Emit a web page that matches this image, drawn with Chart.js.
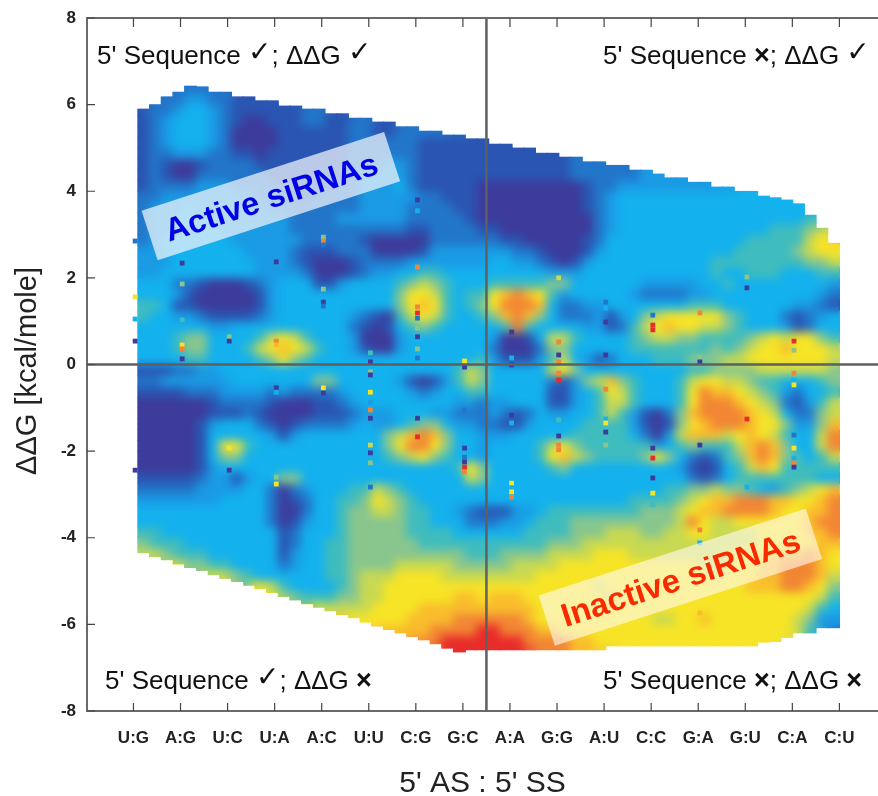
<!DOCTYPE html>
<html>
<head>
<meta charset="utf-8">
<title>siRNA activity map</title>
<script src="https://cdn.jsdelivr.net/npm/chart.js@4"></script>
<style>
    html, body { margin: 0; padding: 0; background: #fff; overflow: hidden; }
    canvas { display: block; }
</style>
</head>
<body>
<canvas id="mapChart" width="878" height="796"></canvas>
<script>
// x axis categories
const categories = ['U:G', 'A:G', 'U:C', 'U:A', 'A:C', 'U:U', 'C:G', 'G:C', 'A:A', 'G:G', 'A:U', 'C:C', 'G:A', 'G:U', 'C:A', 'C:U'];
const yTicks = [8, 6, 4, 2, 0, -2, -4, -6, -8];

// colour levels, 0 (most active) to b (least active)
const levelColors = ['#3d3b9b', '#2a55b2', '#2276ca', '#1a9be4', '#13b1ee', '#3fbcbe', '#88c68e', '#c8d952', '#f7e426', '#f9bd2c', '#f28634', '#e82c2a'];

// levels: one string per 0.25 kcal row from 6.5 down, 60 columns, '.' = no data
const heatRows = [
    '...22 222.. ..... ..... ..... ..... ..... ..... ..... ..... ..... .....',
    '..223 32211 11... ..... ..... ..... ..... ..... ..... ..... ..... .....',
    '12234 43211 11112 211.. ..... ..... ..... ..... ..... ..... ..... .....',
    '12344 43210 01112 21122 11... ..... ..... ..... ..... ..... ..... .....',
    '12344 43200 00111 11122 11222 222.. ..... ..... ..... ..... ..... .....',
    '12344 43200 00111 11122 22221 11111 11... ..... ..... ..... ..... .....',
    '12233 32211 01111 11122 22221 11111 11111 112.. ..... ..... ..... .....',
    '12100 12222 11111 11122 23321 11111 11111 11222 22... ..... ..... .....',
    '12100 22222 21111 11123 33321 11111 11111 11222 22233 33... ..... .....',
    '12222 33322 22111 11223 33421 11110 00000 00012 23333 33333 3.... .....',
    '22333 33333 22211 22223 33332 21110 00000 00012 34444 44444 44444 4....',
    '23334 33333 32222 22223 33322 22110 00000 00012 34444 44444 44444 44...',
    '23344 43333 33322 22333 33322 22210 00000 00002 34444 44444 44444 445..',
    '23344 44333 33322 22222 22211 22221 10000 00002 34444 44444 44445 5567.',
    '23444 44433 33332 22221 00000 22222 21100 00012 44444 44444 44555 55789',
    '33444 44443 33321 11222 00001 33333 33221 00013 44444 44444 45555 56788',
    '33344 44444 33321 00012 22233 33333 44332 10134 44444 44445 55555 55667',
    '33444 44444 33332 00012 33445 54444 44444 33344 44444 44445 44555 44455',
    '44422 10001 23444 11344 44567 65444 55555 66444 44433 33344 54444 44443',
    '44431 00000 13444 44444 44688 75455 89a98 53444 44322 22334 44444 44432',
    '55411 00000 13444 44444 44689 85456 8aaa9 42233 44444 44555 44444 43321',
    '54433 21111 23444 44432 10578 75445 69a96 42223 13467 88888 65444 21234',
    '44444 43344 44444 44421 01456 54444 45a54 44433 12578 98877 65444 31244',
    '44456 64444 57875 44430 00344 44444 30014 77544 44567 76655 55678 78865',
    '44456 64445 78987 54431 00344 44444 20002 66444 44555 55556 56788 98887',
    '44445 54444 56865 44444 44444 44445 31113 57431 24445 55666 77888 88887',
    '11122 33444 44444 44444 44444 44576 44444 78644 44444 44556 66677 77776',
    '22333 33344 44444 66444 44310 13576 44444 21367 96544 45788 77655 44456',
    '11112 22333 32322 22344 44432 34455 44444 11345 87544 458a9 98765 32445',
    '00000 01222 21000 11234 44444 44332 33444 11345 77544 458aa a9876 21357',
    '00000 01112 10000 11123 33444 33222 32124 33445 75310 269aa aa987 42267',
    '00000 13444 21012 22234 33456 64332 21134 44455 55310 1689a aa988 63369',
    '00000 14444 43134 44444 4679a 96443 33444 44555 55420 37999 78987 5447a',
    '00000 14885 44444 44444 468aa 86443 44445 78655 55553 45655 579a9 6447a',
    '00000 14664 44444 44444 45678 65443 44445 89765 55568 64212 569a9 65457',
    '00000 13444 44444 44444 44444 44586 44444 56444 44444 43101 45798 55555',
    '11111 23313 44664 44444 44444 44476 44444 44444 44444 44212 45555 55544',
    '22222 33334 42023 44455 76544 44444 44444 44444 44444 55667 66543 56789',
    '33333 33444 42012 44556 87654 44444 44444 44444 44555 56789 9aaa9 9889a',
    '44444 44444 42002 44566 77655 44321 11334 55555 55566 67899 aaaa9 8899a',
    '44444 44444 42013 44566 66655 44422 23345 55666 66666 67a87 78888 889aa',
    '55444 44444 44124 44566 66655 55444 44455 55666 77766 77887 77788 8899a',
    '65554 44444 44124 45566 66665 55555 55555 66677 77777 77777 77788 88899',
    '77655 54444 44134 45566 66666 66655 56666 77778 88777 77777 78889 99a98',
    '...86 65544 44234 45566 66777 77666 66777 78888 88888 88877 78899 aaa98',
    '..... .8765 44444 45567 77888 87777 77778 88888 88888 88887 88899 aaa97',
    '..... ..... 87544 44567 78888 88888 88888 88887 88888 88888 88999 aa986',
    '..... ..... .8765 55667 78888 88998 99988 88888 78888 88888 88888 88875',
    '..... ..... ....8 87777 88889 99999 99998 88888 88888 88888 88888 88754',
    '..... ..... ..... ..988 88899 99aaa aaa98 88888 88887 78898 88888 87633',
    '..... ..... ..... ..... 99999 aaaab baaa9 98888 88888 88888 88888 87532',
    '..... ..... ..... ..... ...aa abbbb bbbaa aa998 88888 88888 88888 7....',
    '..... ..... ..... ..... ..... .bbbb bbbba aa999 ..... ..... ..... .....'
];

// upper and lower limit of the map for each column
const topEdge = [5.9, 6, 6.18, 6.29, 6.43, 6.41, 6.29, 6.29, 6.18, 6.18, 6.09, 6.09, 5.97, 5.97, 5.9, 5.9, 5.79, 5.79, 5.69, 5.69,
    5.6, 5.6, 5.49, 5.49, 5.39, 5.39, 5.3, 5.3, 5.21, 5.21, 5.09, 5.09, 5, 5, 4.88, 4.88, 4.79, 4.79, 4.68, 4.68,
    4.6, 4.6, 4.49, 4.49, 4.4, 4.31, 4.31, 4.21, 4.21, 4.1, 4.1, 4, 4, 3.89, 3.85, 3.8, 3.71, 3.45, 3.15, 2.8];
const bottomEdge = [-4.35, -4.44, -4.52, -4.61, -4.69, -4.77, -4.86, -4.94, -5.02, -5.11, -5.18, -5.27, -5.36, -5.44, -5.53, -5.61, -5.69, -5.78, -5.85, -5.95,
    -6.04, -6.12, -6.2, -6.28, -6.36, -6.45, -6.55, -6.64, -6.59, -6.59, -6.59, -6.59, -6.59, -6.59, -6.59, -6.59, -6.59, -6.59, -6.59, -6.59,
    -6.5, -6.5, -6.5, -6.5, -6.5, -6.5, -6.5, -6.5, -6.5, -6.5, -6.5, -6.5, -6.5, -6.41, -6.4, -6.3, -6.2, -6.2, -6.08, -6.08];

// single outlier cells on the category columns: [category index, ddG, level]
const spots = [
    [0, 2.85, 2], [0, 1.56, 8], [0, 1.05, 4], [0, 0.54, 0], [0, -2.44, 0],
    [1, 2.34, 0], [1, 1.86, 6], [1, 1.03, 5], [1, 0.45, 8], [1, 0.36, 10], [1, 0.13, 0],
    [2, 0.64, 6], [2, 0.54, 0], [2, -1.93, 8], [2, -2.44, 0],
    [3, 2.37, 0], [3, 0.54, 10], [3, 0.45, 9], [3, -0.54, 0], [3, -0.64, 4], [3, -2.6, 6], [3, -2.76, 8],
    [4, 2.94, 6], [4, 2.85, 10], [4, 2.76, 2], [4, 1.74, 6], [4, 1.44, 0], [4, 1.35, 2], [4, -0.54, 8], [4, -0.66, 0],
    [5, 0.27, 5], [5, 0.06, 0], [5, -0.17, 6], [5, -0.24, 0], [5, -0.64, 8], [5, -0.87, 3], [5, -1.05, 10], [5, -1.24, 0], [5, -1.86, 7], [5, -2.04, 0], [5, -2.27, 6], [5, -2.83, 2],
    [6, 3.8, 0], [6, 3.55, 4], [6, 2.25, 10], [6, 1.33, 10], [6, 1.19, 11], [6, 1.07, 2], [6, 0.84, 6], [6, 0.64, 0], [6, 0.36, 6], [6, 0.15, 2], [6, -1.24, 0], [6, -1.67, 11],
    [7, 0.08, 8], [7, -0.06, 0], [7, -1.05, 2], [7, -1.93, 0], [7, -2.14, 2], [7, -2.25, 0], [7, -2.37, 11], [7, -2.48, 10],
    [8, 0.75, 0], [8, 0.15, 4], [8, -0.01, 0], [8, -1.17, 0], [8, -1.35, 4], [8, -2.74, 8], [8, -2.85, 4], [8, -2.94, 8], [8, -3.06, 10],
    [9, 2, 7], [9, 0.52, 10], [9, 0.22, 0], [9, 0.06, 10], [9, -0.2, 10], [9, -0.36, 11], [9, -1.28, 5], [9, -1.65, 0], [9, -1.86, 10], [9, -1.97, 10],
    [10, 1.44, 2], [10, 1.3, 4], [10, 0.98, 0], [10, 0.22, 0], [10, -0.57, 10], [10, -1.12, 6], [10, -1.26, 4], [10, -1.35, 8], [10, -1.56, 0], [10, -1.86, 6],
    [11, 1.14, 2], [11, 0.91, 11], [11, 0.8, 11], [11, -1.93, 0], [11, -2.16, 11], [11, -2.62, 0], [11, -2.97, 8], [11, -3.24, 5],
    [12, 1.19, 10], [12, 0.17, 6], [12, 0.06, 0], [12, -1.86, 0], [12, -3.82, 10], [12, -4.12, 4], [12, -5.74, 9],
    [13, 2.02, 6], [13, 1.77, 0], [13, -1.26, 11], [13, -2.83, 4],
    [14, 0.54, 11], [14, 0.33, 6], [14, -0.2, 10], [14, -0.36, 4], [14, -0.47, 8], [14, -1.63, 2], [14, -1.93, 8], [14, -2.16, 4], [14, -2.27, 10], [14, -2.37, 0]
];

// quadrant captions
const quadrantLabels = ["5' Sequence \u2713; \u0394\u0394G \u2713", "5' Sequence \u00d7; \u0394\u0394G \u2713", "5' Sequence \u2713; \u0394\u0394G \u00d7", "5' Sequence \u00d7; \u0394\u0394G \u00d7"];

const frameColor = '#6a6a6a';
const colStart = 0.095;
const colStep = (15 - colStart) / 60;
const rowTop = 6.5;
const rowStep = 0.25;

// one bar dataset per row, each bar is one cell
function buildHeatDatasets() {
    return heatRows.map((row, r) => {
        const cells = row.replace(/ /g, '');
        const data = [];
        const colors = [];
        for (let k = 0; k < cells.length; k++) {
            if (cells[k] === '.') continue;
            const hi = Math.min(rowTop - r * rowStep, topEdge[k]);
            const lo = Math.max(rowTop - (r + 1) * rowStep, bottomEdge[k]);
            if (lo >= hi) continue;
            data.push({ x: colStart + (k + 0.5) * colStep, y: [lo, hi] });
            colors.push(levelColors[parseInt(cells[k], 16)]);
        }
        return { type: 'bar', data: data, backgroundColor: colors, borderWidth: 0, barThickness: 12.2, grouped: false };
    });
}

// outline of the map in pixels
function traceMap(ctx, xs, ys) {
    ctx.beginPath();
    for (let k = 0; k < topEdge.length; k++) {
        const x0 = xs.getPixelForValue(colStart + k * colStep);
        const x1 = xs.getPixelForValue(colStart + (k + 1) * colStep);
        const y = ys.getPixelForValue(topEdge[k]);
        if (k === 0) ctx.moveTo(x0, y); else ctx.lineTo(x0, y);
        ctx.lineTo(x1, y);
    }
    for (let k = bottomEdge.length - 1; k >= 0; k--) {
        const x0 = xs.getPixelForValue(colStart + k * colStep);
        const x1 = xs.getPixelForValue(colStart + (k + 1) * colStep);
        const y = ys.getPixelForValue(bottomEdge[k]);
        ctx.lineTo(x1, y);
        ctx.lineTo(x0, y);
    }
    ctx.closePath();
}

// soften the drawn cells the way the original shading looks
const softenPlugin = {
    id: 'soften',
    beforeDatasetDraw(chart, args) {
        if (args.index !== 2) return;
        const { ctx, canvas, scales } = chart;
        const inner = document.createElement('canvas');
        inner.width = canvas.width;
        inner.height = canvas.height;
        const ic = inner.getContext('2d');
        traceMap(ic, scales.x, scales.y);
        ic.clip();
        ic.drawImage(canvas, 0, 0);

        // pad the edges so the blur does not pull in the white page
        const pad = document.createElement('canvas');
        pad.width = canvas.width;
        pad.height = canvas.height;
        const pc = pad.getContext('2d');
        [[0, -21], [0, 21], [-21, 0], [21, 0], [0, -14], [0, 14], [-14, 0], [14, 0], [0, -7], [0, 7], [-7, 0], [7, 0]].forEach(o => pc.drawImage(inner, o[0], o[1]));
        pc.drawImage(inner, 0, 0);

        ctx.save();
        traceMap(ctx, scales.x, scales.y);
        ctx.clip();
        ctx.filter = 'blur(5px)';
        ctx.drawImage(pad, 0, 0);
        ctx.restore();
    }
};

// caption with a heavier cross and a raised tick
function drawCaption(ctx, label, x, y) {
    label.split(/(\u00d7|\u2713)/).forEach(part => {
        if (!part) return;
        if (part === '\u00d7') ctx.font = 'bold 27px "Liberation Sans"';
        else if (part === '\u2713') ctx.font = '28px "DejaVu Sans"';
        else ctx.font = '26px "Liberation Sans"';
        ctx.fillText(part, x, part === '\u2713' ? y - 3 : y);
        x += ctx.measureText(part).width;
    });
}

// frame top line, inward tick marks, captions and the two rotated boxes
const decorPlugin = {
    id: 'decor',
    afterDatasetsDraw(chart) {
        const { ctx, chartArea, scales } = chart;
        const xs = scales.x;
        const ys = scales.y;
        ctx.save();
        ctx.strokeStyle = frameColor;
        ctx.lineWidth = 2;
        ctx.beginPath();
        ctx.moveTo(chartArea.left, chartArea.top);
        ctx.lineTo(chartArea.right, chartArea.top);
        ctx.stroke();

        ctx.strokeStyle = '#444';
        ctx.lineWidth = 1.2;
        ctx.beginPath();
        categories.forEach((c, i) => {
            const x = xs.getPixelForValue(i);
            ctx.moveTo(x, chartArea.top);
            ctx.lineTo(x, chartArea.top + 9);
            ctx.moveTo(x, chartArea.bottom);
            ctx.lineTo(x, chartArea.bottom - 8);
        });
        yTicks.forEach(v => {
            const y = ys.getPixelForValue(v);
            ctx.moveTo(chartArea.left, y);
            ctx.lineTo(chartArea.left + 8, y);
        });
        ctx.stroke();

        ctx.fillStyle = '#111';
        ctx.textBaseline = 'middle';
        ctx.textAlign = 'left';
        drawCaption(ctx, quadrantLabels[0], 97, 57);
        drawCaption(ctx, quadrantLabels[1], 603, 57);
        drawCaption(ctx, quadrantLabels[2], 105, 682);
        drawCaption(ctx, quadrantLabels[3], 603, 682);

        // y axis title
        ctx.save();
        ctx.translate(28, 371);
        ctx.rotate(-Math.PI / 2);
        ctx.textAlign = 'center';
        ctx.fillStyle = '#222';
        ctx.font = '29px "Liberation Sans"';
        ctx.fillText('\u0394\u0394G [kcal/mole]', 0, 0);
        ctx.restore();

        drawTag(ctx, xs.getPixelForValue(2.92), ys.getPixelForValue(3.89), 255, 52, 'Active siRNAs', 32.5, '#0000e6', 'rgba(235,242,250,0.75)');
        drawTag(ctx, xs.getPixelForValue(11.62), ys.getPixelForValue(-4.91), 281, 53, 'Inactive siRNAs', 33, '#fa2a00', 'rgba(255,250,240,0.62)');
        ctx.restore();
    }
};

function drawTag(ctx, cx, cy, w, h, text, size, color, fill) {
    ctx.save();
    ctx.translate(cx, cy);
    ctx.rotate(-18 * Math.PI / 180);
    ctx.fillStyle = fill;
    ctx.fillRect(-w / 2, -h / 2, w, h);
    ctx.fillStyle = color;
    ctx.font = 'bold ' + size + 'px "Liberation Sans"';
    ctx.textAlign = 'center';
    ctx.textBaseline = 'middle';
    ctx.fillText(text, 0, 3);
    ctx.restore();
}

const datasets = [
    { type: 'line', data: [{ x: 7.5, y: -8 }, { x: 7.5, y: 8 }], borderColor: '#5f5f5f', borderWidth: 2.5, pointRadius: 0 },
    { type: 'line', data: [{ x: -1, y: 0 }, { x: 16, y: 0 }], borderColor: '#5f5f5f', borderWidth: 2.5, pointRadius: 0 },
    {
        type: 'scatter',
        data: spots.map(s => ({ x: s[0] + 0.035, y: s[1] })),
        backgroundColor: spots.map(s => levelColors[s[2]]),
        pointStyle: 'rect',
        pointRadius: 3.4,
        borderWidth: 0
    }
].concat(buildHeatDatasets());

new Chart(document.getElementById('mapChart'), {
    type: 'bar',
    data: { datasets: datasets },
    plugins: [softenPlugin, decorPlugin],
    options: {
        responsive: false,
        animation: false,
        layout: { autoPadding: false, padding: { top: 18, right: 0, bottom: 0, left: 0 } },
        plugins: { legend: { display: false }, tooltip: { enabled: false } },
        scales: {
            x: {
                type: 'linear',
                offset: false,
                min: -0.987,
                max: 15.82,
                afterBuildTicks: axis => { axis.ticks = categories.map((c, i) => ({ value: i })); },
                afterFit: axis => {
                    axis.height = 85;
                    axis.paddingLeft = 0;
                    axis.paddingRight = 0;
                },
                grid: { display: false, offset: false },
                border: { color: frameColor, width: 2 },
                ticks: {
                    autoSkip: false,
                    maxRotation: 0,
                    padding: 9.5,
                    color: '#222',
                    font: { family: 'Liberation Sans', size: 17, weight: 'bold' },
                    callback: v => categories[v]
                },
                title: {
                    display: true,
                    text: "5' AS : 5' SS",
                    color: '#222',
                    font: { family: 'Liberation Sans', size: 30, lineHeight: 1 },
                    padding: { top: 12, bottom: -3 }
                }
            },
            y: {
                min: -8,
                max: 8,
                afterBuildTicks: axis => { axis.ticks = yTicks.map(v => ({ value: v })); },
                afterFit: axis => { axis.width = 87; },
                grid: { display: false },
                border: { color: frameColor, width: 2 },
                ticks: {
                    padding: 3,
                    color: '#222',
                    font: { family: 'Liberation Sans', size: 17, weight: 'bold' }
                }
            }
        }
    }
});
</script>
</body>
</html>
